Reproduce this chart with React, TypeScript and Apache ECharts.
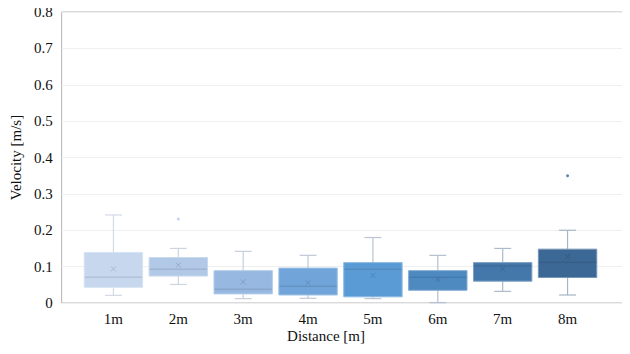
import React, { useEffect, useRef } from "react";
import * as echarts from "echarts";

const categories = ["1m", "2m", "3m", "4m", "5m", "6m", "7m", "8m"];
// [low whisker, Q1, median, Q3, high whisker]
const lowWhisker = [0.021, 0.051, 0.012, 0.013, 0.012, 0.001, 0.032, 0.022];
const q1 = [0.043, 0.074, 0.025, 0.022, 0.017, 0.035, 0.060, 0.070];
const median = [0.071, 0.093, 0.038, 0.046, 0.093, 0.071, 0.102, 0.112];
const q3 = [0.139, 0.125, 0.089, 0.096, 0.111, 0.089, 0.111, 0.148];
const highWhisker = [0.242, 0.150, 0.142, 0.131, 0.180, 0.131, 0.150, 0.200];
const means = [0.094, 0.104, 0.058, 0.056, 0.076, 0.064, 0.094, 0.128];
const outliers: [string, number][] = [
  ["2m", 0.231],
  ["8m", 0.350],
];
const yTicks = [0, 0.1, 0.2, 0.3, 0.4, 0.5, 0.6, 0.7, 0.8];

const boxColors = ["#c6d7ee", "#b1c8e6", "#97b8e0", "#71a5d9", "#5b9bd5", "#4e89c0", "#4578aa", "#3c6896"];
const whiskerColors = ["#d3dae4", "#ccd5e0", "#c6cfdc", "#bfcad8", "#b9c5d4", "#b3bfcf", "#acbacb", "#a6b5c7"];

const FONT = "'Liberation Serif', 'Times New Roman', serif";

function mix(hex: string, target: number, t: number) {
  const n = parseInt(hex.slice(1), 16);
  const r = (n >> 16) & 255, g = (n >> 8) & 255, b = n & 255;
  const f = (c: number) => Math.round(c + (target - c) * t);
  return `rgb(${f(r)},${f(g)},${f(b)})`;
}

export default function App() {
  const ref = useRef<HTMLDivElement>(null);
  useEffect(() => {
    if (!ref.current) return;
    const chart = echarts.init(ref.current, undefined, { renderer: "svg" });
    const data = categories.map((c, i) => [i, lowWhisker[i], q1[i], median[i], q3[i], highWhisker[i], means[i]]);
    chart.setOption({
      animation: false,
      backgroundColor: "#ffffff",
      grid: [
        { left: 58, right: 4, top: 12, bottom: 51, show: true, borderColor: "#b4b4b4", borderWidth: 1 },
        { left: 81, width: 519, top: 12, bottom: 51 },
      ],
      xAxis: [
        { type: "value", gridIndex: 0, min: 0, max: 1, show: false },
        {
          type: "category",
          gridIndex: 1,
          data: categories,
          boundaryGap: true,
          axisLine: { show: false },
          axisTick: { show: false },
          axisLabel: { color: "#111", fontFamily: FONT, fontSize: 15, margin: 8 },
        },
      ],
      yAxis: [
        {
          type: "value",
          gridIndex: 0,
          min: 0,
          max: 0.8,
          interval: 0.1,
          axisLine: { show: false },
          axisTick: { show: false },
          axisLabel: {
            color: "#111",
            fontFamily: FONT,
            fontSize: 15,
            margin: 9,
            formatter: (v: number) => {
              const t = yTicks.find((k) => Math.abs(k - v) < 1e-6);
              return t === undefined ? "" : String(t);
            },
          },
          splitLine: { lineStyle: { color: "#efefef", width: 1 } },
          name: "Velocity [m/s]",
          nameLocation: "middle",
          nameGap: 36,
          nameTextStyle: { color: "#111", fontFamily: FONT, fontSize: 15 },
        },
        { type: "value", gridIndex: 1, min: 0, max: 0.8, show: false },
      ],
      graphic: [
        {
          type: "text",
          x: 326,
          y: 336,
          style: {
            text: "Distance [m]",
            fontFamily: FONT,
            fontSize: 15,
            fill: "#111",
            align: "center",
            verticalAlign: "middle",
          },
        },
      ],
      series: [
        {
          type: "custom",
          xAxisIndex: 1,
          yAxisIndex: 1,
          data,
          encode: { x: 0, y: [1, 2, 3, 4, 5] },
          renderItem: (params: any, api: any) => {
            const i = params.dataIndex;
            const xv = api.value(0);
            const pLow = api.coord([xv, api.value(1)]);
            const pQ1 = api.coord([xv, api.value(2)]);
            const pMed = api.coord([xv, api.value(3)]);
            const pQ3 = api.coord([xv, api.value(4)]);
            const pHigh = api.coord([xv, api.value(5)]);
            const pMean = api.coord([xv, api.value(6)]);
            const band = api.size([1, 0])[0];
            const bw = band * 0.9;
            const cx = pMed[0];
            const capW = bw * 0.29;
            const wc = whiskerColors[i];
            const fill = boxColors[i];
            const dark = mix(fill, 0, 0.14);
            const light = mix(fill, 255, 0.3);
            const m = 2.5;
            return {
              type: "group",
              children: [
                { type: "line", shape: { x1: cx, y1: pHigh[1], x2: cx, y2: pQ3[1] }, style: { stroke: wc, lineWidth: 1.2 } },
                { type: "line", shape: { x1: cx, y1: pQ1[1], x2: cx, y2: pLow[1] }, style: { stroke: wc, lineWidth: 1.2 } },
                { type: "line", shape: { x1: cx - capW / 2, y1: pHigh[1], x2: cx + capW / 2, y2: pHigh[1] }, style: { stroke: wc, lineWidth: 1.2 } },
                { type: "line", shape: { x1: cx - capW / 2, y1: pLow[1], x2: cx + capW / 2, y2: pLow[1] }, style: { stroke: wc, lineWidth: 1.2 } },
                {
                  type: "rect",
                  shape: { x: cx - bw / 2, y: pQ3[1], width: bw, height: pQ1[1] - pQ3[1] },
                  style: { fill, stroke: light, lineWidth: 1 },
                },
                { type: "line", shape: { x1: cx - bw / 2 + 0.5, y1: pMed[1], x2: cx + bw / 2 - 0.5, y2: pMed[1] }, style: { stroke: dark, lineWidth: 1 } },
                { type: "line", shape: { x1: cx - m, y1: pMean[1] - m, x2: cx + m, y2: pMean[1] + m }, style: { stroke: dark, lineWidth: 1 } },
                { type: "line", shape: { x1: cx - m, y1: pMean[1] + m, x2: cx + m, y2: pMean[1] - m }, style: { stroke: dark, lineWidth: 1 } },
              ],
            };
          },
        },
        {
          type: "scatter",
          xAxisIndex: 1,
          yAxisIndex: 1,
          data: outliers,
          symbolSize: 3,
          itemStyle: {
            color: (p: any) => boxColors[categories.indexOf(p.data[0])],
          },
        },
      ],
    });
    return () => chart.dispose();
  }, []);
  return <div ref={ref} style={{ width: 630, height: 354, margin: -8 }} />;
}
